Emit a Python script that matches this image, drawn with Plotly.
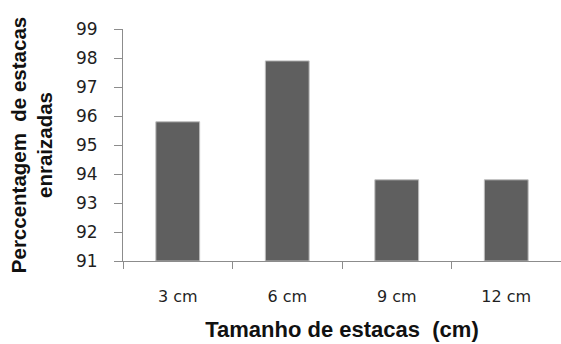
import plotly.graph_objects as go

# Rooting percentage by cutting length
categories = ["3 cm", "6 cm", "9 cm", "12 cm"]
rooted_pct = [95.8, 97.9, 93.8, 93.8]
y_ticks = [91, 92, 93, 94, 95, 96, 97, 98, 99]
axis_floor = 91

fig = go.Figure(
    go.Bar(
        x=categories,
        y=[v - axis_floor for v in rooted_pct],
        base=axis_floor,
        width=0.4,
        marker=dict(color="#5f5f5f", line=dict(color="#bdbdbd", width=1)),
        hovertext=[f"{v}%" for v in rooted_pct],
    )
)

axis_grey = "#8c8c8c"
fig.update_layout(
    width=561,
    height=344,
    margin=dict(l=123, r=0, t=29, b=83),
    plot_bgcolor="white",
    paper_bgcolor="white",
    showlegend=False,
    xaxis=dict(
        type="category",
        showline=True,
        linecolor=axis_grey,
        linewidth=1,
        ticks="outside",
        tickson="boundaries",
        ticklen=7,
        tickcolor=axis_grey,
        tickfont=dict(family="DejaVu Sans", size=16, color="#1f1f1f"),
        ticklabelstandoff=21,
        title=dict(
            text="Tamanho de estacas  (cm)",
            font=dict(family="Liberation Sans", size=22, color="#111111", weight="bold"),
            standoff=16,
        ),
    ),
    yaxis=dict(
        range=[91, 99],
        tickvals=y_ticks,
        showline=True,
        linecolor=axis_grey,
        linewidth=1,
        ticks="outside",
        ticklen=8,
        tickcolor=axis_grey,
        showgrid=False,
        zeroline=False,
        tickfont=dict(family="DejaVu Sans", size=17, color="#1f1f1f"),
        ticklabelstandoff=13,
        title=dict(
            text="Perccentagem  de estacas<br>enraizadas",
            font=dict(family="Liberation Sans", size=20.5, color="#111111", weight="bold"),
            standoff=17,
        ),
    ),
)

fig.write_html("out.html")
